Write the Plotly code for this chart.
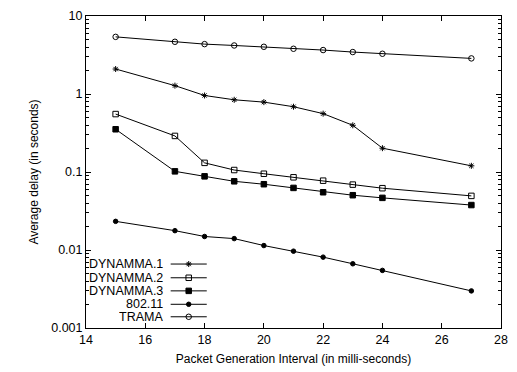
import plotly.graph_objects as go

x_vals = [15, 17, 18, 19, 20, 21, 22, 23, 24, 27]
dynamma1 = [2.09, 1.28, 0.957, 0.843, 0.787, 0.687, 0.56, 0.397, 0.202, 0.120]
dynamma2 = [0.553, 0.29, 0.131, 0.106, 0.095, 0.0855, 0.0774, 0.0689, 0.062, 0.0494]
dynamma3 = [0.353, 0.102, 0.088, 0.076, 0.0697, 0.0625, 0.055, 0.0504, 0.0466, 0.0377]
ieee80211 = [0.0233, 0.0177, 0.0149, 0.014, 0.0114, 0.00966, 0.0081, 0.00666, 0.00548, 0.00299]
trama = [5.4, 4.67, 4.36, 4.19, 4.03, 3.80, 3.66, 3.45, 3.28, 2.86]

names = ["DYNAMMA.1", "DYNAMMA.2", "DYNAMMA.3", "802.11", "TRAMA"]
series = [dynamma1, dynamma2, dynamma3, ieee80211, trama]
symbols = ["asterisk-open", "square-open", "square", "circle", "circle-open"]
sizes = [5, 5.5, 5.5, 4.5, 5.5]

y_major = [0.001, 0.01, 0.1, 1, 10]
y_major_text = ["0.001", "0.01", "0.1", "1", "10"]
y_minor = [m * d for d in [0.001, 0.01, 0.1, 1] for m in range(2, 10)]

FONT = "Liberation Sans, Arial, sans-serif"

fig = go.Figure()
for name, ys, sym, sz in zip(names, series, symbols, sizes):
    fig.add_trace(go.Scatter(
        x=x_vals, y=ys, mode="lines+markers", name=name, showlegend=False,
        line=dict(color="black", width=1),
        marker=dict(symbol=sym, size=sz, color="black",
                    line=dict(color="black", width=1)),
    ))

# custom legend (text left, sample on the right, gnuplot style)
leg_y = [0.205, 0.161, 0.119, 0.076, 0.036]
for name, sym, sz, ly in zip(names, symbols, sizes, leg_y):
    fig.add_trace(go.Scatter(
        x=[0.204, 0.291], y=[ly, ly], xaxis="x2", yaxis="y2", mode="lines",
        line=dict(color="black", width=1), showlegend=False, hoverinfo="skip"))
    fig.add_trace(go.Scatter(
        x=[0.2475], y=[ly], xaxis="x2", yaxis="y2", mode="markers",
        marker=dict(symbol=sym, size=sz, color="black",
                    line=dict(color="black", width=1)),
        showlegend=False, hoverinfo="skip"))
    fig.add_annotation(x=0.187, y=ly, xref="x2", yref="y2", text=name,
                       showarrow=False, xanchor="right", yanchor="middle",
                       height=12, borderpad=0, valign="middle",
                       font=dict(family=FONT, size=12.5, color="black"))

fig.update_layout(
    width=517, height=372,
    margin=dict(l=86, r=9, t=14, b=44),
    plot_bgcolor="white", paper_bgcolor="white",
    font=dict(family=FONT, size=12, color="black"),
    xaxis=dict(
        range=[14, 28], tickvals=[14, 16, 18, 20, 22, 24, 26, 28],
        ticks="inside", ticklen=5, tickwidth=1, tickcolor="black",
        showline=True, linecolor="black", linewidth=1, mirror="ticks",
        showgrid=False, zeroline=False,
        title=dict(text="Packet Generation Interval (in milli-seconds)",
                   font=dict(size=12), standoff=8),
        tickfont=dict(size=12.5),
    ),
    yaxis=dict(
        type="log", range=[-3, 1],
        tickvals=y_major, ticktext=y_major_text,
        ticks="inside", ticklen=5, tickwidth=1, tickcolor="black",
        minor=dict(ticks="inside", ticklen=3, tickcolor="black", tickwidth=1,
                   showgrid=False, tickmode="array", tickvals=y_minor),
        showline=True, linecolor="black", linewidth=1, mirror="ticks",
        showgrid=False, zeroline=False,
        title=dict(text="Average delay (in seconds)", font=dict(size=12), standoff=10),
        tickfont=dict(size=12.5),
    ),
    xaxis2=dict(range=[0, 1], overlaying="x", visible=False, fixedrange=True),
    yaxis2=dict(range=[0, 1], overlaying="y", visible=False, fixedrange=True),
)

fig.write_html("out.html")
